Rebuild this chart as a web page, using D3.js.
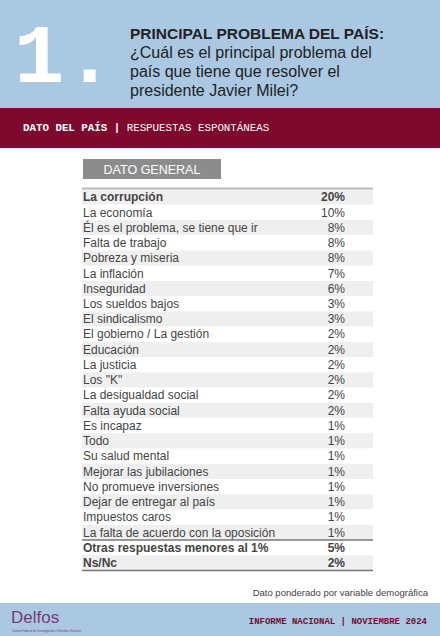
<!DOCTYPE html>
<html><head><meta charset="utf-8">
<script src="https://cdn.jsdelivr.net/npm/d3@7"></script>
<style>body{margin:0;background:#fff}</style>
</head><body><div id="chart"></div>
<script>
const labels = ["La corrupción","La economía","Él es el problema, se tiene que ir","Falta de trabajo","Pobreza y miseria","La inflación","Inseguridad","Los sueldos bajos","El sindicalismo","El gobierno / La gestión","Educación","La justicia","Los \"K\"","La desigualdad social","Falta ayuda social","Es incapaz","Todo","Su salud mental","Mejorar las jubilaciones","No promueve inversiones","Dejar de entregar al país","Impuestos caros","La falta de acuerdo con la oposición","Otras respuestas menores al 1%","Ns/Nc"];
const values = [20,10,8,8,8,7,6,3,3,2,2,2,2,2,2,1,1,1,1,1,1,1,1,5,2];

const W = 440, H = 636;
const svg = d3.select("#chart").append("svg").attr("width", W).attr("height", H);
const sans = "Liberation Sans, Arial, sans-serif", mono = "Liberation Mono, Courier New, monospace";

// header
svg.append("rect").attr("width", W).attr("height", 108).attr("fill", "#aac8e2");
svg.append("text").attr("x", 14).attr("y", 82).attr("font-family", mono).attr("font-size", 84)
  .attr("font-weight", "bold").attr("fill", "#fff").text("1.");
svg.append("text").attr("x", 130).attr("y", 39).attr("font-family", sans).attr("font-weight", "bold")
  .attr("font-size", 15.5).attr("fill", "#222").text("PRINCIPAL PROBLEMA DEL PAÍS:");
["¿Cuál es el principal problema del", "país que tiene que resolver el", "presidente Javier Milei?"].forEach((t, i) =>
  svg.append("text").attr("x", 130).attr("y", 58 + i * 19).attr("font-family", sans)
    .attr("font-size", 16).attr("fill", "#222").text(t));

svg.append("rect").attr("y", 108).attr("width", W).attr("height", 40).attr("fill", "#7d0a2e");
const band = svg.append("text").attr("x", 23).attr("y", 131).attr("font-family", mono)
  .attr("font-size", 10.8).attr("fill", "#fff");
band.append("tspan").attr("font-weight", "bold").text("DATO DEL PAÍS | ");
band.append("tspan").text("RESPUESTAS ESPONTÁNEAS");

// table
const x0 = 82, x1 = 373;
svg.append("rect").attr("x", 83).attr("y", 159).attr("width", 138).attr("height", 20).attr("fill", "#8c8c8c");
svg.append("text").attr("x", 152).attr("y", 174).attr("text-anchor", "middle").attr("font-family", sans)
  .attr("font-size", 12.5).attr("fill", "#fff").text("DATO GENERAL");

const y = d3.scaleBand().domain(d3.range(labels.length)).range([189.5, 570.5]);
const rows = svg.append("g").selectAll("g").data(labels).join("g")
  .attr("transform", (d, i) => `translate(0,${y(i)})`);
rows.append("rect").attr("x", x0).attr("width", x1 - x0).attr("height", y.bandwidth())
  .attr("fill", (d, i) => i % 2 === 0 ? "#efefef" : "#fff");
rows.append("text").attr("x", x0 + 1).attr("y", y.bandwidth() / 2 + 4.2).attr("font-family", sans)
  .attr("font-size", 12).attr("fill", "#444")
  .attr("font-weight", (d, i) => (i === 0 || i >= 23) ? "bold" : null).text(d => d);
rows.append("text").attr("x", 345).attr("y", y.bandwidth() / 2 + 4.2).attr("text-anchor", "end")
  .attr("font-family", sans).attr("font-size", 12).attr("fill", "#444")
  .attr("font-weight", (d, i) => (i === 0 || i >= 23) ? "bold" : null).text((d, i) => values[i] + "%");

[[y(0) - 1, "#bbb", 2], [y(23), "#777", 1.5], [y(24) + y.bandwidth(), "#777", 1.5]].forEach(([yy, c, w]) =>
  svg.append("line").attr("x1", x0).attr("x2", x1).attr("y1", yy).attr("y2", yy).attr("stroke", c).attr("stroke-width", w));

svg.append("text").attr("x", 428).attr("y", 596).attr("text-anchor", "end").attr("font-family", sans)
  .attr("font-size", 9.5).attr("fill", "#444").text("Dato ponderado por variable demográfica");

// footer
svg.append("rect").attr("y", 603).attr("width", W).attr("height", 33).attr("fill", "#aac8e2");
svg.append("text").attr("x", 11).attr("y", 623).attr("font-family", sans).attr("font-size", 17)
  .attr("fill", "#7d3a7a").text("Delfos");
svg.append("text").attr("x", 12).attr("y", 632).attr("font-family", sans).attr("font-size", 3)
  .attr("fill", "#7d3a7a").text("Centro Federal de Investigación y Estudios Sociales");
svg.append("text").attr("x", 427).attr("y", 624).attr("text-anchor", "end").attr("font-family", mono)
  .attr("font-weight", "bold").attr("font-size", 9).attr("fill", "#7d0a2e").text("INFORME NACIONAL | NOVIEMBRE 2024");
</script></body></html>
